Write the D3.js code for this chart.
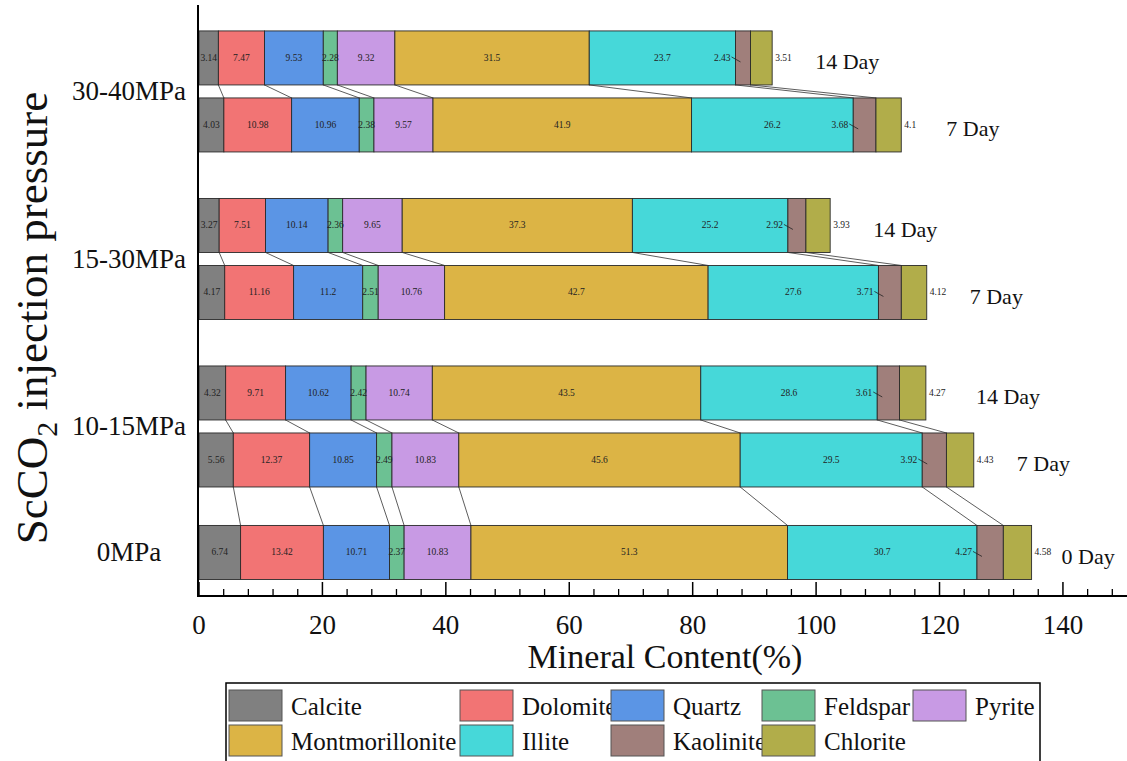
<!DOCTYPE html>
<html><head><meta charset="utf-8">
<script src="https://cdn.jsdelivr.net/npm/d3@7"></script>
<style>
html,body{margin:0;padding:0;background:#fff;}
svg text{font-family:"Liberation Serif","Times New Roman","DejaVu Serif",serif;}
</style></head>
<body>
<svg id="chart" width="1127" height="761" font-family="Liberation Serif, Times New Roman, serif"></svg>
<script>
// ---------- data ----------
const minerals = ["Calcite","Dolomite","Quartz","Feldspar","Pyrite","Montmorillonite","Illite","Kaolinite","Chlorite"];
const pressures = ["30-40MPa","15-30MPa","10-15MPa","0MPa"];
const samples = ["14 Day","7 Day","14 Day","7 Day","14 Day","7 Day","0 Day"];
const sampleGroup = [0,0,1,1,2,2,3];
const calcite = [3.14,4.03,3.27,4.17,4.32,5.56,6.74];
const dolomite = [7.47,10.98,7.51,11.16,9.71,12.37,13.42];
const quartz = [9.53,10.96,10.14,11.2,10.62,10.85,10.71];
const feldspar = [2.28,2.38,2.36,2.51,2.42,2.49,2.37];
const pyrite = [9.32,9.57,9.65,10.76,10.74,10.83,10.83];
const montmorillonite = [31.5,41.9,37.3,42.7,43.5,45.6,51.3];
const illite = [23.7,26.2,25.2,27.6,28.6,29.5,30.7];
const kaolinite = [2.43,3.68,2.92,3.71,3.61,3.92,4.27];
const chlorite = [3.51,4.1,3.93,4.12,4.27,4.43,4.58];
const xTicks = [0,20,40,60,80,100,120,140];

// ---------- styles ----------
const colors = ["#808080","#f27474","#5b95e5","#6cc193","#c89ae4","#dcb445","#46d8d9","#a07f7b","#b1ad4a"];
const seriesVals = [calcite,dolomite,quartz,feldspar,pyrite,montmorillonite,illite,kaolinite,chlorite];

const table = samples.map((s,i)=>{
  const r = {idx:i, sample:s};
  minerals.forEach((m,k)=> r[m] = seriesVals[k][i]);
  return r;
});
const stacked = d3.stack().keys(minerals)(table);

// layout: slot positions of bars (computed from group structure)
const slots = [];
{
  let s = 0;
  sampleGroup.forEach((g,i)=>{
    if(i>0){ s += (g===sampleGroup[i-1]) ? 1 : (g===3 ? 1.38 : 1.5); }
    slots.push(s);
  });
}
const svg = d3.select("#chart");
const x = d3.scaleLinear().domain([0,150]).range([199, 199+150*6.171]);
const y = d3.scaleLinear().domain([-0.79, 8.03]).range([5, 596]);
const bh = y(0.806) - y(0);

svg.append("defs").append("clipPath").attr("id","plotclip")
  .append("rect").attr("x",199).attr("y",0).attr("width",930).attr("height",596);

const plot = svg.append("g");

// bars
stacked.forEach((layer,k)=>{
  plot.append("g").selectAll("rect").data(layer).join("rect")
    .attr("x", d=>x(d[0]))
    .attr("y", (d,i)=> y(slots[i]) - bh/2)
    .attr("width", d=>x(d[1])-x(d[0]))
    .attr("height", bh)
    .attr("fill", colors[k])
    .attr("stroke","#2a2a2a").attr("stroke-width",0.9);
});

// connecting lines
const pairs = [[0,1],[2,3],[4,5],[5,6]];
const lg = plot.append("g");
pairs.forEach(([a,b])=>{
  for(let k=0;k<minerals.length-1;k++){
    lg.append("line")
      .attr("x1", x(stacked[k][a][1])).attr("y1", y(slots[a])+bh/2)
      .attr("x2", x(stacked[k][b][1])).attr("y2", y(slots[b])-bh/2)
      .attr("stroke","#333").attr("stroke-width",0.8);
  }
});

// value labels
const vl = plot.append("g").attr("clip-path","url(#plotclip)")
  .attr("font-size",9.5).attr("fill","#222");
stacked.forEach((layer,k)=>{
  layer.forEach((d,i)=>{
    const cy = y(slots[i]);
    const v = seriesVals[k][i];
    if(minerals[k]==="Kaolinite"){
      const xs = x(d[0]);
      vl.append("text").attr("x", xs-5).attr("y", cy).attr("text-anchor","end")
        .attr("dominant-baseline","central").text(v);
      vl.append("line").attr("x1",xs-4).attr("y1",cy-1).attr("x2",xs+5).attr("y2",cy+4)
        .attr("stroke","#222").attr("stroke-width",0.8);
    } else if(minerals[k]==="Chlorite"){
      vl.append("text").attr("x", x(d[1])+3).attr("y", cy)
        .attr("dominant-baseline","central").text(v);
    } else {
      vl.append("text").attr("x", (x(d[0])+x(d[1]))/2).attr("y", cy)
        .attr("text-anchor","middle").attr("dominant-baseline","central").text(v);
    }
  });
});

// day labels
const dayDx = [43,45,43,43,50,43,30];
samples.forEach((s,i)=>{
  const end = stacked[minerals.length-1][i][1];
  svg.append("text").attr("x", x(end)+dayDx[i]).attr("y", y(slots[i])+4)
    .attr("dominant-baseline","central").attr("font-size",22).attr("fill","#111").text(s);
});

// axes
const xAxis = svg.append("g");
xAxis.append("line").attr("x1",198).attr("x2",1127).attr("y1",596).attr("y2",596)
  .attr("stroke","#000").attr("stroke-width",2);
const minor = d3.range(0,151,4).filter(v=>v%20!==0);
xAxis.selectAll(".mj").data(xTicks).join("line")
  .attr("x1",d=>x(d)).attr("x2",d=>x(d)).attr("y1",596).attr("y2",582)
  .attr("stroke","#000").attr("stroke-width",1.5);
xAxis.selectAll(".mn").data(minor).join("line")
  .attr("x1",d=>x(d)).attr("x2",d=>x(d)).attr("y1",596).attr("y2",589)
  .attr("stroke","#000").attr("stroke-width",1.3);
xAxis.selectAll(".tl").data(xTicks).join("text")
  .attr("x",d=>x(d)).attr("y",634).attr("text-anchor","middle")
  .attr("font-size",27).attr("fill","#111").text(d=>d);
svg.append("line").attr("x1",198).attr("x2",198).attr("y1",5).attr("y2",597)
  .attr("stroke","#000").attr("stroke-width",2);

// y labels at group centres
pressures.forEach((p,g)=>{
  const idx = sampleGroup.map((v,i)=>v===g?i:-1).filter(i=>i>=0);
  const cy = d3.mean(idx, i=>y(slots[i]));
  svg.append("text").attr("x",129).attr("y",cy).attr("text-anchor","middle")
    .attr("dominant-baseline","central").attr("font-size",27).attr("fill","#111").text(p);
});

// titles
svg.append("text").attr("x",665).attr("y",668).attr("text-anchor","middle")
  .attr("font-size",34).attr("fill","#111").text("Mineral Content(%)");
const yt = svg.append("text").attr("transform","translate(47,318) rotate(-90)")
  .attr("text-anchor","middle").attr("font-size",45).attr("fill","#111");
yt.append("tspan").text("ScCO");
yt.append("tspan").attr("font-size",30).attr("dy",10).text("2");
yt.append("tspan").attr("dy",-10).text(" injection pressure");

// legend
const leg = svg.append("g");
leg.append("rect").attr("x",226).attr("y",683).attr("width",814).attr("height",90)
  .attr("fill","#fff").attr("stroke","#000").attr("stroke-width",1.5);
minerals.forEach((m,k)=>{
  const row = Math.floor(k/5), col = k%5;
  const lx = 229 + col*151 + (col>0?80:0);
  const ly = 690 + row*35;
  leg.append("rect").attr("x",lx).attr("y",ly).attr("width",53).attr("height",31)
    .attr("fill",colors[k]).attr("stroke","#555").attr("stroke-width",1);
  leg.append("text").attr("x",lx+62).attr("y",ly+16).attr("dominant-baseline","central")
    .attr("font-size",25).attr("fill","#111").text(m);
});
</script>
</body></html>
